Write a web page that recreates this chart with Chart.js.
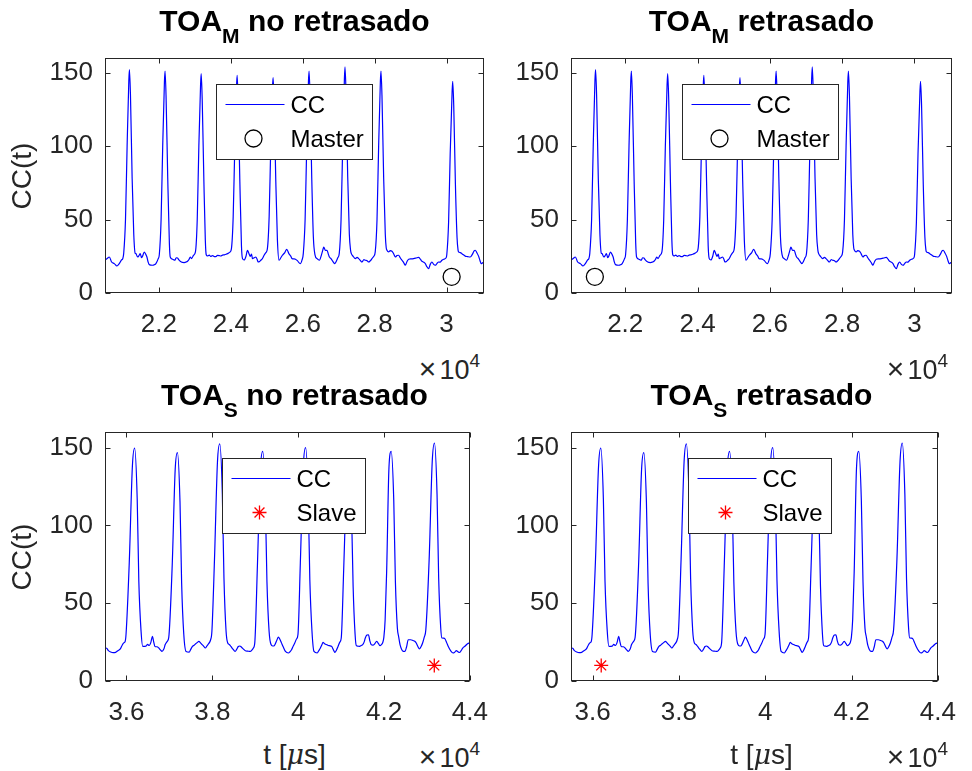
<!DOCTYPE html>
<html>
<head>
<meta charset="utf-8">
<script src="https://cdn.jsdelivr.net/npm/chart.js@4.4.1/dist/chart.umd.min.js"></script>
<style>
  html, body { margin: 0; padding: 0; background: #fff; overflow: hidden; }
  body { width: 972px; height: 771px; position: relative; font-family: "Liberation Sans", Arial, Helvetica, sans-serif; color: #262626; }
  canvas { position: absolute; }
  .title { position: absolute; font-weight: bold; font-size: 30px; line-height: 30px; color: #000; text-align: center; white-space: nowrap; }
  .title .sub { font-size: 21px; position: relative; top: 12px; }
  .ylab { position: absolute; width: 200px; font-size: 28px; line-height: 28px; text-align: center; transform: rotate(-90deg); white-space: nowrap; }
  .xlab { position: absolute; font-size: 28px; line-height: 28px; text-align: center; white-space: nowrap; }
  .xlab i { font-family: "DejaVu Serif", "Liberation Serif", serif; font-size: 27px; }
  .expo { position: absolute; font-size: 27px; line-height: 27px; text-align: right; white-space: nowrap; }
  .expo .times { font-size: 30px; margin-right: 3px; }
  .expo .sup { font-size: 19px; position: relative; top: -12px; }
</style>
</head>
<body>
<script>
// CC(t) trace for the TOA_M plots (same trace left and right)
const tTop = [
    20500, 20560, 20620, 20684, 20758, 20832, 20897, 20960, 20995,
    21020, 21070, 21115, 21163, 21180, 21208, 21255, 21300, 21340,
    21360, 21407, 21445, 21481, 21515, 21545, 21592, 21630, 21666, 21700, 21731, 21823, 21870, 21916, 21981,
    22010, 22060, 22105, 22153, 22170, 22198, 22245, 22290, 22314,
    22379, 22444, 22480, 22518, 22555, 22592, 22650, 22703, 22750, 22796, 22840, 22870, 22907, 22962,
    23015, 23065, 23110, 23158, 23175, 23203, 23250, 23290, 23315,
    23351, 23400, 23440, 23490, 23540, 23583, 23630, 23675, 23720, 23768, 23820, 23870, 23907, 23981,
    24015, 24065, 24110, 24158, 24175, 24203, 24250, 24295, 24324,
    24370, 24420, 24462, 24500, 24540, 24575, 24601, 24650, 24694, 24730, 24759, 24800, 24833, 24880, 24925, 24975,
    25015, 25065, 25110, 25158, 25175, 25203, 25250, 25295, 25342,
    25390, 25435, 25500, 25555, 25610, 25666, 25703, 25759, 25796, 25850, 25900, 25935, 25980,
    26015, 26065, 26110, 26158, 26175, 26203, 26250, 26295, 26340,
    26397, 26462, 26520, 26560, 26583, 26630, 26675, 26710, 26740, 26780, 26814, 26850, 26888, 26930, 26975,
    27015, 27065, 27110, 27158, 27175, 27203, 27250, 27295, 27330,
    27351, 27400, 27462, 27510, 27555, 27600, 27648, 27700, 27740, 27790, 27833, 27880, 27925, 27975,
    28015, 28065, 28110, 28158, 28175, 28203, 28250, 28295, 28320,
    28342, 28388, 28430, 28481, 28530, 28574, 28620, 28666, 28710, 28759, 28810, 28851, 28900, 28944, 29010, 29083, 29150,
    29222, 29270, 29314, 29360, 29407, 29450, 29500, 29545, 29592, 29640, 29685, 29730, 29777, 29820, 29870, 29920, 29981,
    30005, 30055, 30100, 30153, 30170, 30198, 30245, 30290, 30320,
    30333, 30380, 30425, 30470, 30518, 30580, 30657, 30720, 30760, 30796, 30840, 30889, 30930, 30963, 31000, 31040
];
const ccTop = [
    22.3, 23.5, 24.5, 21.1, 20.0, 18.4, 20.0, 22.5, 23.5,
    27, 50, 100, 145, 152.1, 135, 78, 40, 27,
    26.8, 24.5, 25.5, 26.8, 24.0, 25.1, 27.9, 26.5, 24.5, 21.0, 19.3, 18.9, 19.2, 20.0, 23.4,
    26, 50, 100, 144, 151.1, 134, 78, 34, 24.5,
    23.0, 22.3, 24.0, 23.8, 22.5, 21.6, 20.8, 20.7, 21.0, 21.6, 23.0, 24.5, 23.4, 25.7,
    28, 50, 100, 142, 149.3, 132, 76, 36, 26,
    25.2, 25.8, 24.9, 25.5, 24.8, 24.8, 25.6, 25.5, 25.2, 25.8, 26.0, 26.4, 26.8, 28.0,
    30, 52, 100, 141, 148.2, 131, 76, 32, 23.4,
    22.5, 25.0, 29.1, 27.0, 25.0, 26.5, 23.4, 24.0, 24.5, 23.0, 21.1, 21.5, 22.3, 23.5, 25.7, 27.5,
    30, 52, 100, 140, 146.6, 130, 76, 36, 22.3,
    24.0, 25.7, 27.5, 29.8, 27.0, 25.1, 23.4, 23.2, 23.0, 22.0, 20.5, 20.0, 22.5,
    27, 50, 100, 144, 151.1, 134, 78, 38, 26,
    23.4, 22.3, 26.0, 29.5, 31.3, 29.0, 29.1, 26.5, 24.5, 23.5, 22.3, 21.0, 20.0, 21.5, 24.0,
    27, 50, 100, 146, 153.9, 136, 79, 40, 29,
    26.8, 25.0, 23.4, 24.2, 23.4, 22.2, 21.1, 22.8, 22.3, 22.0, 21.1, 22.0, 23.4, 25.0,
    28, 50, 100, 144, 151.1, 134, 78, 40, 31,
    29.1, 28.0, 28.8, 28.5, 26.5, 24.5, 25.5, 25.7, 24.0, 22.3, 20.5, 18.9, 21.5, 23.0, 23.2, 23.4, 23.8,
    24.3, 23.0, 21.6, 21.0, 20.0, 18.0, 16.6, 19.5, 21.1, 19.5, 18.9, 20.0, 21.1, 21.0, 22.3, 23.0, 23.8,
    26, 48, 95, 137, 144.1, 128, 74, 38, 29,
    28.0, 27.5, 26.8, 26.0, 25.1, 24.8, 24.5, 26.5, 28.5, 29.1, 27.5, 25.1, 22.0, 20.0, 20.5, 21.0
];

// CC(t) trace for the TOA_S plots
const tBottom = [
    35500, 35540, 35580, 35633, 35690, 35745, 35800, 35857, 35900, 35932, 35969,
    35990, 36065, 36138, 36190, 36250, 36288, 36340,
    36380, 36455, 36490, 36529, 36570, 36604, 36635, 36664, 36710, 36753, 36790, 36828, 36870, 36903, 36950, 36985,
    37065, 37135, 37187, 37247, 37285, 37335,
    37388, 37463, 37500, 37537, 37575, 37612, 37650, 37687, 37725, 37761, 37800, 37836, 37875, 37911, 37960,
    37990, 38050, 38120, 38173, 38233, 38271, 38320,
    38359, 38395, 38433, 38480, 38530, 38570, 38605, 38640, 38680, 38725, 38769, 38820, 38881, 38920, 38956, 38990,
    39050, 39122, 39174, 39234, 39272, 39322,
    39367, 39405, 39442, 39500, 39540, 39570, 39610, 39650, 39703, 39771, 39810, 39845, 39885, 39920, 39960, 39995,
    40050, 40121, 40173, 40233, 40271, 40321,
    40368, 40443, 40480, 40517, 40555, 40577, 40615, 40652, 40690, 40727, 40779, 40820, 40853, 40890, 40928, 40970, 41003,
    41060, 41130, 41181, 41241, 41279, 41325,
    41354, 41390, 41428, 41470, 41503, 41535, 41563, 41600, 41637, 41667, 41700, 41741, 41772, 41830, 41870, 41906, 41940, 41965, 41995, 42025,
    42060, 42114, 42166, 42226, 42264, 42310,
    42339, 42375, 42413, 42450, 42488, 42525, 42563, 42620, 42675, 42715, 42749, 42790, 42824, 42860, 42898, 42935, 42973,
    43050, 43122, 43174, 43234, 43272, 43320,
    43347, 43385, 43421, 43460, 43496, 43550, 43608, 43645, 43683, 43720, 43757, 43795, 43832, 43890, 43944, 44000
];
const ccBottom = [
    21.2, 21.0, 19.5, 18.6, 18.2, 18.4, 19.5, 20.6, 23.0, 24.4, 25.4,
    30, 76, 138, 149.6, 117, 64, 32,
    22.2, 22.4, 23.5, 22.8, 25.0, 28.7, 25.0, 22.2, 22.0, 21.2, 20.0, 19.0, 20.5, 23.4, 25.5, 28.0,
    74, 136, 146.8, 115, 63, 30,
    19.0, 18.6, 20.5, 22.2, 23.0, 23.9, 24.8, 25.4, 24.5, 23.4, 22.3, 21.2, 22.5, 23.9, 26.5,
    32, 78, 141, 152.4, 120, 66, 32,
    24.4, 23.5, 22.2, 20.5, 19.0, 20.5, 22.2, 22.5, 21.7, 20.5, 19.4, 19.2, 19.0, 19.8, 21.2, 25.0,
    74, 137, 147.5, 116, 64, 32,
    23.4, 22.5, 22.7, 26.0, 28.2, 27.0, 24.5, 22.0, 19.0, 18.0, 18.8, 20.1, 22.5, 24.4, 27.0, 30.0,
    76, 139, 150, 118, 65, 32,
    19.0, 18.0, 19.5, 21.2, 23.5, 24.8, 24.0, 23.4, 23.0, 22.7, 22.2, 20.0, 18.4, 19.8, 22.2, 25.0, 27.6,
    72, 130, 140, 110, 61, 30,
    22.7, 22.4, 22.2, 22.8, 23.4, 25.0, 27.6, 29.5, 29.7, 26.0, 23.4, 23.0, 23.5, 25.5, 24.0, 22.7, 23.5, 24.4, 28.0, 39.4,
    70, 137, 147.5, 116, 64, 34,
    28.6, 23.0, 20.1, 19.0, 19.0, 22.0, 26.5, 26.5, 26.0, 25.5, 24.4, 22.0, 20.6, 22.0, 24.4, 28.0, 33.0,
    78, 141, 152.9, 120, 66, 34,
    27.6, 27.5, 27.0, 24.5, 22.2, 19.5, 18.0, 18.5, 19.5, 18.8, 18.3, 19.5, 21.2, 22.5, 24.0, 24.5
];

// detected TOA markers: index 0 = "no retrasado", 1 = "retrasado"
const masterT = [30140, 21160];
const masterCC = [11, 11];
const slaveT = [43170, 36200];
const slaveCC = [10, 10];

// axes
const xRangeTop = [20500, 31040];
const xRangeBottom = [35500, 44000];
const yRange = [0, 160];
const xTicksTop = [22000, 24000, 26000, 28000, 30000];
const xTickLabelsTop = ['2.2', '2.4', '2.6', '2.8', '3'];
const xTicksBottom = [36000, 38000, 40000, 42000, 44000];
const xTickLabelsBottom = ['3.6', '3.8', '4', '4.2', '4.4'];
const yTicks = [0, 50, 100, 150];
const yTickLabels = ['0', '50', '100', '150'];

const FONT = '"Liberation Sans", Arial, Helvetica, sans-serif';
const AXIS_COLOR = '#262626';

// box, inward ticks on all four sides, and the legend drawn MATLAB style
const matlabFrame = {
    id: 'matlabFrame',
    afterDatasetsDraw(chart, args, opts) {
        const ctx = chart.ctx;
        const a = chart.chartArea;
        const xs = chart.scales.x, ys = chart.scales.y;
        ctx.save();

        // legend
        ctx.font = '24px ' + FONT;
        const textW = Math.max(...opts.legend.map(it => ctx.measureText(it.label).width));
        const lx = Math.round(a.left + opts.legendX) + 0.5;
        const ly = Math.round(a.top + 26) + 0.5;
        const lw = Math.round(74 + textW + 9), lh = 75;
        ctx.fillStyle = '#fff';
        ctx.fillRect(lx, ly, lw, lh);
        ctx.strokeStyle = AXIS_COLOR;
        ctx.lineWidth = 1;
        ctx.strokeRect(lx, ly, lw, lh);
        opts.legend.forEach((it, i) => {
            const ry = ly + 20 + i * 34;
            const mx = lx + 37;
            ctx.beginPath();
            if (it.kind === 'line') {
                ctx.strokeStyle = '#0000ff';
                ctx.lineWidth = 1.2;
                ctx.moveTo(lx + 9, ry);
                ctx.lineTo(lx + 68, ry);
            } else if (it.kind === 'circle') {
                ctx.strokeStyle = '#000';
                ctx.lineWidth = 1.3;
                ctx.arc(mx, ry, 8.5, 0, Math.PI * 2);
            } else {
                ctx.strokeStyle = '#ff0000';
                ctx.lineWidth = 1.3;
                for (let k = 0; k < 4; k++) {
                    const ang = k * Math.PI / 4;
                    ctx.moveTo(mx - 7 * Math.cos(ang), ry - 7 * Math.sin(ang));
                    ctx.lineTo(mx + 7 * Math.cos(ang), ry + 7 * Math.sin(ang));
                }
            }
            ctx.stroke();
            ctx.fillStyle = '#000';
            ctx.textBaseline = 'middle';
            ctx.textAlign = 'left';
            ctx.fillText(it.label, lx + 74, ry + 1.5);
        });

        // frame
        const L = Math.round(a.left) + 0.5, R = Math.round(a.right) - 0.5;
        const T = Math.round(a.top) + 0.5, B = Math.round(a.bottom) - 0.5;
        ctx.strokeStyle = AXIS_COLOR;
        ctx.lineWidth = 1;
        ctx.strokeRect(L, T, R - L, B - T);
        ctx.beginPath();
        opts.xTicks.forEach(v => {
            const px = Math.round(xs.getPixelForValue(v)) + 0.5;
            ctx.moveTo(px, B); ctx.lineTo(px, B - 5);
            ctx.moveTo(px, T); ctx.lineTo(px, T + 5);
        });
        yTicks.forEach(v => {
            const py = Math.round(ys.getPixelForValue(v)) + 0.5;
            ctx.moveTo(L, py); ctx.lineTo(L + 5, py);
            ctx.moveTo(R, py); ctx.lineTo(R - 5, py);
        });
        ctx.stroke();
        ctx.restore();
    }
};

const panels = [
    { area: { l: 105, t: 58, r: 484, b: 293 }, sub: 'M', rest: ' no retrasado',
      t: tTop, cc: ccTop, xRange: xRangeTop, xTicks: xTicksTop, xLabels: xTickLabelsTop,
      mT: [masterT[0]], mCC: [masterCC[0]], mStyle: 'circle', mLabel: 'Master', legendX: 111,
      yLabel: true, xLabel: false },
    { area: { l: 571, t: 58, r: 952, b: 293 }, sub: 'M', rest: ' retrasado',
      t: tTop, cc: ccTop, xRange: xRangeTop, xTicks: xTicksTop, xLabels: xTickLabelsTop,
      mT: [masterT[1]], mCC: [masterCC[1]], mStyle: 'circle', mLabel: 'Master', legendX: 111,
      yLabel: false, xLabel: false },
    { area: { l: 105, t: 432, r: 484, b: 681 }, sub: 'S', rest: ' no retrasado',
      t: tBottom, cc: ccBottom, xRange: xRangeBottom, xTicks: xTicksBottom, xLabels: xTickLabelsBottom,
      mT: [slaveT[0]], mCC: [slaveCC[0]], mStyle: 'star', mLabel: 'Slave', legendX: 117,
      yLabel: true, xLabel: true },
    { area: { l: 571, t: 432, r: 952, b: 681 }, sub: 'S', rest: ' retrasado',
      t: tBottom, cc: ccBottom, xRange: xRangeBottom, xTicks: xTicksBottom, xLabels: xTickLabelsBottom,
      mT: [slaveT[1]], mCC: [slaveCC[1]], mStyle: 'star', mLabel: 'Slave', legendX: 117,
      yLabel: false, xLabel: true }
];

function addDiv(cls, html, style) {
    const d = document.createElement('div');
    d.className = cls;
    d.innerHTML = html;
    Object.assign(d.style, style);
    document.body.appendChild(d);
    return d;
}

function makePanel(p) {
    const padL = 70, padT = 30, padR = 20, padB = 50;
    const a = p.area;
    const w = a.r - a.l + padL + padR;
    const h = a.b - a.t + padT + padB;
    const cv = document.createElement('canvas');
    cv.width = w;
    cv.height = h;
    cv.style.left = (a.l - padL) + 'px';
    cv.style.top = (a.t - padT) + 'px';
    cv.style.width = w + 'px';
    cv.style.height = h + 'px';
    document.body.appendChild(cv);

    new Chart(cv, {
        type: 'scatter',
        data: {
            datasets: [
                {
                    label: 'CC',
                    data: p.t.map((t, i) => ({ x: t, y: p.cc[i] })),
                    showLine: true,
                    borderColor: '#0000ff',
                    borderWidth: 1.2,
                    pointRadius: 0,
                    cubicInterpolationMode: 'monotone',
                    clip: 0,
                },
                {
                    label: p.mLabel,
                    data: p.mT.map((t, i) => ({ x: t, y: p.mCC[i] })),
                    pointStyle: p.mStyle,
                    pointRadius: p.mStyle === 'circle' ? 8.5 : 7,
                    borderColor: p.mStyle === 'circle' ? '#000' : '#ff0000',
                    backgroundColor: 'rgba(0,0,0,0)',
                    borderWidth: 1.3,
                    showLine: false,
                }
            ]
        },
        options: {
            responsive: false,
            animation: false,
            devicePixelRatio: 1,
            events: [],
            layout: { padding: { top: padT, right: padR, left: 0, bottom: 0 } },
            plugins: {
                legend: { display: false },
                tooltip: { enabled: false },
                matlabFrame: {
                    legend: [{ label: 'CC', kind: 'line' }, { label: p.mLabel, kind: p.mStyle }],
                    legendX: p.legendX,
                    xTicks: p.xTicks
                }
            },
            scales: {
                x: {
                    type: 'linear',
                    min: p.xRange[0],
                    max: p.xRange[1],
                    afterFit: s => { s.height = padB; },
                    afterBuildTicks: s => { s.ticks = p.xTicks.map(v => ({ value: v })); },
                    grid: { display: false, drawTicks: false },
                    border: { display: false },
                    ticks: {
                        autoSkip: false,
                        maxRotation: 0,
                        padding: 16,
                        color: AXIS_COLOR,
                        font: { family: FONT, size: 26 },
                        callback: v => p.xLabels[p.xTicks.indexOf(v)]
                    }
                },
                y: {
                    type: 'linear',
                    min: yRange[0],
                    max: yRange[1],
                    afterFit: s => { s.width = padL; },
                    afterBuildTicks: s => { s.ticks = yTicks.map(v => ({ value: v })); },
                    grid: { display: false, drawTicks: false },
                    border: { display: false },
                    ticks: {
                        autoSkip: false,
                        padding: 12,
                        color: AXIS_COLOR,
                        font: { family: FONT, size: 26 },
                        callback: v => yTickLabels[yTicks.indexOf(v)]
                    }
                }
            }
        },
        plugins: [matlabFrame]
    });

    // title with subscript
    addDiv('title', 'TOA<span class="sub">' + p.sub + '</span>' + p.rest,
        { left: a.l + 'px', width: (a.r - a.l) + 'px', top: (a.t - 52) + 'px' });
    // exponent
    addDiv('expo', '<span class="times">&times;</span>10<span class="sup">4</span>',
        { left: a.l + 'px', width: (a.r - a.l - 4) + 'px', top: (a.b + 62) + 'px' });
    if (p.yLabel) {
        addDiv('ylab', 'CC(t)', { left: (22 - 100) + 'px', top: ((a.t + a.b) / 2 - 14) + 'px' });
    }
    if (p.xLabel) {
        addDiv('xlab', 't [<i>&mu;</i>s]',
            { left: a.l + 'px', width: (a.r - a.l) + 'px', top: (a.b + 60) + 'px' });
    }
}

panels.forEach(makePanel);
</script>
</body>
</html>
